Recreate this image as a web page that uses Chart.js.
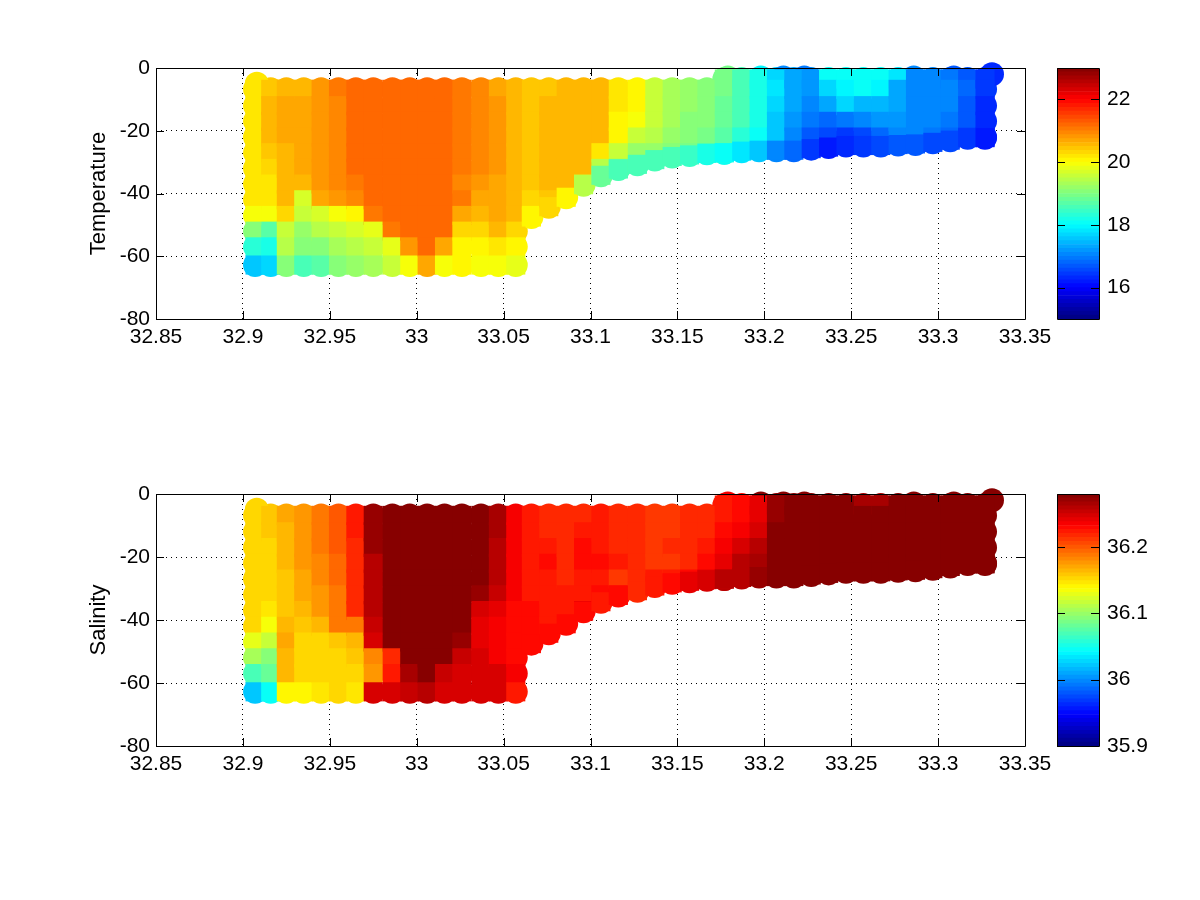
<!DOCTYPE html>
<html>
<head>
<meta charset="utf-8">
<title>Temperature and salinity section</title>
<script src="https://cdn.jsdelivr.net/npm/chart.js@4/dist/chart.umd.min.js"></script>
<style>
  html, body { margin: 0; background: #fff; }
  canvas { position: absolute; }
</style>
</head>
<body>
<canvas id="tempChart" style="left:76px;top:53px"></canvas>
<canvas id="tempBar" style="left:1047px;top:53px"></canvas>
<canvas id="salChart" style="left:76px;top:479px"></canvas>
<canvas id="salBar" style="left:1047px;top:479px"></canvas>
<script>
const lonTicks = [32.85, 32.9, 32.95, 33, 33.05, 33.1, 33.15, 33.2, 33.25, 33.3, 33.35];
const depthTicks = [-80, -60, -40, -20, 0];
const tempTicks = [16, 18, 20, 22];
const salTicks = [35.9, 36, 36.1, 36.2];

const lons = [32.907, 32.916, 32.925, 32.935, 32.945, 32.955, 32.965, 32.975, 32.986, 32.996, 33.006,
  33.016, 33.026, 33.037, 33.047, 33.057, 33.066, 33.076, 33.086, 33.096, 33.106, 33.116,
  33.127, 33.137, 33.147, 33.157, 33.167, 33.177, 33.187, 33.197, 33.207, 33.217, 33.227,
  33.237, 33.247, 33.257, 33.267, 33.277, 33.287, 33.297, 33.307, 33.317, 33.327];
const depthLevels = [-3.5, -6.8, -12, -17, -22, -27, -32, -37, -42, -47, -52, -57, -62.8];

// one list per station, top to bottom along depthLevels
const tempProfiles = [
  [null, 20.2, 20.2, 20.2, 20.2, 20.2, 20.2, 20.2, 20.2, 19.9, 19.0, 18.3, 17.6],
  [null, 20.4, 20.5, 20.5, 20.5, 20.4, 20.3, 20.2, 20.2, 19.9, 18.7, 18.2, 17.7],
  [null, 20.6, 20.7, 20.7, 20.7, 20.6, 20.5, 20.5, 20.5, 20.3, 19.6, 19.4, 19.0],
  [null, 20.6, 20.7, 20.7, 20.7, 20.7, 20.7, 20.5, 19.7, 19.5, 19.2, 19.0, 18.6],
  [null, 20.8, 20.8, 20.8, 20.8, 20.8, 20.8, 20.8, 20.7, 19.7, 19.4, 19.0, 18.7],
  [null, 21.0, 20.9, 20.9, 20.9, 20.9, 20.9, 20.9, 20.8, 19.9, 19.6, 19.3, 19.0],
  [null, 21.15, 21.15, 21.15, 21.15, 21.15, 21.15, 21.0, 20.9, 20.0, 19.7, 19.4, 19.2],
  [null, 21.15, 21.15, 21.15, 21.15, 21.15, 21.15, 21.15, 21.15, 21.0, 19.8, 19.5, 19.3],
  [null, 21.15, 21.15, 21.15, 21.15, 21.15, 21.15, 21.15, 21.15, 21.15, 21.0, 19.8, 19.5],
  [null, 21.15, 21.15, 21.15, 21.15, 21.15, 21.15, 21.15, 21.15, 21.15, 21.15, 20.8, 19.9],
  [null, 21.15, 21.15, 21.15, 21.15, 21.15, 21.15, 21.15, 21.15, 21.15, 21.15, 21.15, 20.7],
  [null, 21.15, 21.15, 21.15, 21.15, 21.15, 21.15, 21.15, 21.15, 21.15, 21.15, 20.7, 19.9],
  [null, 21.0, 21.0, 21.0, 21.0, 21.0, 21.0, 20.9, 21.0, 20.7, 20.3, 20.1, 20.0],
  [null, 20.9, 20.9, 20.9, 20.9, 20.9, 20.9, 20.8, 20.7, 20.6, 20.3, 20.1, 19.9],
  [null, 20.7, 20.8, 20.8, 20.8, 20.8, 20.8, 20.7, 20.7, 20.7, 20.6, 20.2, 19.9],
  [null, 20.5, 20.6, 20.6, 20.6, 20.5, 20.5, 20.5, 20.5, 20.5, 20.3, 20.0, 19.8],
  [null, 20.4, 20.4, 20.4, 20.4, 20.4, 20.4, 20.4, 20.3, 20.1],
  [null, 20.4, 20.5, 20.5, 20.5, 20.5, 20.5, 20.5, 20.4],
  [null, 20.5, 20.5, 20.5, 20.5, 20.5, 20.5, 20.5],
  [null, 20.5, 20.5, 20.5, 20.5, 20.5, 20.5, 19.5],
  [null, 20.5, 20.5, 20.5, 20.5, 20.2, 19.4],
  [null, 20.2, 20.2, 20.1, 20.0, 19.5, 18.8],
  [null, 20.0, 20.0, 19.9, 19.6, 19.2],
  [null, 19.6, 19.6, 19.5, 19.4, 19.2],
  [null, 19.3, 19.3, 19.3, 19.2, 19.0],
  [null, 19.2, 19.2, 19.1, 19.0, 18.9],
  [null, 19.1, 19.1, 19.0, 18.9, 18.7],
  [18.9, 18.9, 18.8, 18.8, 18.7, 18.4],
  [18.6, 18.6, 18.6, 18.5, 18.3],
  [18.2, 18.2, 18.2, 18.2, 18.0],
  [17.7, 17.8, 17.7, 17.6, 17.5],
  [17.3, 17.3, 17.3, 17.2, 17.1],
  [17.2, 17.2, 17.1, 16.9, 16.7],
  [18.1, 17.7, 17.3, 16.8, 16.5],
  [18.1, 17.9, 17.7, 16.9, 16.4],
  [18.1, 18.0, 17.4, 17.0, 16.6],
  [18.1, 17.9, 17.4, 17.2, 16.8],
  [17.8, 17.3, 17.3, 17.2, 17.0],
  [17.1, 17.1, 17.1, 17.1, 17.0],
  [17.0, 17.1, 17.1, 17.0, 16.9],
  [16.9, 17.0, 17.0, 16.9, 16.8],
  [16.7, 16.8, 16.7, 16.7, 16.6],
  [16.4, 16.4, 16.3, 16.3, 16.3],
];
const salProfiles = [
  [null, 36.155, 36.155, 36.155, 36.155, 36.155, 36.155, 36.155, 36.15, 36.13, 36.105, 36.07, 36.02],
  [null, 36.16, 36.16, 36.155, 36.15, 36.15, 36.15, 36.145, 36.135, 36.115, 36.095, 36.08, 36.045],
  [null, 36.17, 36.165, 36.165, 36.165, 36.16, 36.16, 36.16, 36.165, 36.17, 36.165, 36.165, 36.14],
  [null, 36.175, 36.175, 36.175, 36.175, 36.17, 36.17, 36.165, 36.16, 36.155, 36.155, 36.155, 36.14],
  [null, 36.185, 36.185, 36.185, 36.18, 36.18, 36.175, 36.175, 36.165, 36.15, 36.15, 36.155, 36.145],
  [null, 36.2, 36.2, 36.2, 36.195, 36.195, 36.19, 36.19, 36.185, 36.16, 36.155, 36.155, 36.15],
  [null, 36.225, 36.225, 36.22, 36.22, 36.215, 36.215, 36.215, 36.19, 36.165, 36.16, 36.155, 36.145],
  [null, 36.27, 36.27, 36.27, 36.26, 36.26, 36.26, 36.26, 36.255, 36.25, 36.18, 36.175, 36.25],
  [null, 36.28, 36.28, 36.28, 36.28, 36.28, 36.28, 36.28, 36.28, 36.28, 36.22, 36.225, 36.25],
  [null, 36.28, 36.28, 36.28, 36.28, 36.28, 36.28, 36.28, 36.28, 36.28, 36.28, 36.265, 36.255],
  [null, 36.28, 36.28, 36.28, 36.28, 36.28, 36.28, 36.28, 36.28, 36.28, 36.28, 36.275, 36.26],
  [null, 36.28, 36.28, 36.28, 36.28, 36.28, 36.28, 36.28, 36.28, 36.28, 36.275, 36.255, 36.245],
  [null, 36.28, 36.28, 36.28, 36.28, 36.28, 36.28, 36.28, 36.28, 36.27, 36.255, 36.25, 36.25],
  [null, 36.275, 36.275, 36.275, 36.275, 36.275, 36.27, 36.25, 36.24, 36.24, 36.245, 36.25, 36.25],
  [null, 36.265, 36.265, 36.26, 36.26, 36.26, 36.255, 36.24, 36.235, 36.235, 36.235, 36.245, 36.245],
  [null, 36.235, 36.235, 36.235, 36.235, 36.235, 36.235, 36.23, 36.23, 36.23, 36.23, 36.235, 36.225],
  [null, 36.225, 36.225, 36.225, 36.225, 36.225, 36.225, 36.23, 36.23],
  [null, 36.22, 36.22, 36.225, 36.23, 36.225, 36.225, 36.225, 36.225],
  [null, 36.22, 36.22, 36.22, 36.22, 36.22, 36.225, 36.225],
  [null, 36.22, 36.225, 36.23, 36.23, 36.225, 36.225, 36.24],
  [null, 36.225, 36.225, 36.225, 36.23, 36.225, 36.23],
  [null, 36.215, 36.215, 36.22, 36.225, 36.21, 36.23],
  [null, 36.215, 36.215, 36.215, 36.215, 36.215],
  [null, 36.21, 36.21, 36.21, 36.21, 36.225],
  [null, 36.21, 36.21, 36.215, 36.21, 36.225],
  [null, 36.215, 36.215, 36.215, 36.22, 36.23],
  [null, 36.22, 36.22, 36.225, 36.23, 36.24],
  [36.225, 36.225, 36.23, 36.235, 36.24, 36.255],
  [36.23, 36.23, 36.235, 36.245, 36.26],
  [36.24, 36.24, 36.25, 36.26, 36.265],
  [36.27, 36.27, 36.275, 36.275, 36.275],
  [36.28, 36.28, 36.28, 36.28, 36.28],
  [36.28, 36.28, 36.28, 36.28, 36.28],
  [36.28, 36.28, 36.28, 36.28, 36.28],
  [36.28, 36.28, 36.28, 36.28, 36.28],
  [36.265, 36.28, 36.28, 36.28, 36.28],
  [36.265, 36.28, 36.28, 36.28, 36.28],
  [36.28, 36.28, 36.28, 36.28, 36.28],
  [36.28, 36.28, 36.28, 36.28, 36.28],
  [36.28, 36.28, 36.28, 36.28, 36.28],
  [36.28, 36.28, 36.28, 36.28, 36.28],
  [36.28, 36.28, 36.28, 36.28, 36.28],
  [36.28, 36.28, 36.28, 36.28, 36.28],
];

// deepest sample of the stations on the slope and the shelf
const edgeLons = [33.066, 33.076, 33.086, 33.096, 33.106, 33.116, 33.127, 33.137, 33.147, 33.157, 33.167,
  33.177, 33.187, 33.197, 33.207, 33.217, 33.227, 33.237, 33.247, 33.257, 33.267, 33.277, 33.287, 33.297,
  33.307, 33.317, 33.327];
const edgeDepths = [-47.5, -44.2, -41.2, -37.2, -34.2, -32.2, -30.7, -29.2, -28.2, -27.7, -27.2,
  -27, -26.5, -26.2, -26.2, -26.2, -25.7, -25.2, -24.7, -24.7, -24.7, -24.4, -24.2, -23.7,
  -23, -22.2, -22.2];
const edgeTemps = [20.1, 20.3, 20.1, 19.4, 18.8, 18.6, 18.6, 18.6, 18.5, 18.4, 18.2,
  18.0, 17.8, 17.5, 17.1, 16.8, 16.4, 16.2, 16.3, 16.4, 16.5, 16.7, 16.7, 16.6,
  16.6, 16.4, 16.2];
const edgeSals = [36.23, 36.23, 36.23, 36.23, 36.225, 36.23, 36.215, 36.225, 36.23, 36.24, 36.25,
  36.26, 36.26, 36.27, 36.275, 36.28, 36.28, 36.28, 36.28, 36.28, 36.28, 36.28, 36.28, 36.28,
  36.28, 36.28, 36.28];

// shallowest samples that poke out at the surface
const capLons = [32.908, 33.179, 33.198, 33.211, 33.223, 33.286, 33.309, 33.331];
const capDepths = [-5, -3, -3, -3, -3, -3, -3, -2];
const capTemps = [20.2, 18.9, 17.9, 17.0, 16.9, 17.0, 16.7, 16.3];
const capSals = [36.155, 36.235, 36.28, 36.28, 36.28, 36.28, 36.28, 36.28];

const FONT = { family: '"Liberation Sans", Arial, sans-serif', size: 21 };
const TITLE_FONT = { family: '"Liberation Sans", Arial, sans-serif', size: 22 };
const COLORS = 64;

function jet(t) {
  const level = Math.min(COLORS - 1, Math.max(0, Math.floor(t * COLORS)));
  const p = (level + 0.5) / COLORS;
  const ramp = (c) => Math.round(255 * Math.min(1, Math.max(0, 1.5 - Math.abs(4 * p - c))));
  return `rgb(${ramp(3)},${ramp(2)},${ramp(1)})`;
}

// keeps tick label overhang from pushing the plot area around
function fixBox(s, size) {
  if (s.isHorizontal()) s.height = size; else s.width = size;
  s.paddingTop = s.paddingBottom = s.paddingLeft = s.paddingRight = 0;
}

// black box and inward tick marks, drawn over the data like the original axes
const axesFrame = {
  id: 'axesFrame',
  afterDraw(chart, args, opts) {
    const { ctx, chartArea: a, scales } = chart;
    ctx.save();
    ctx.strokeStyle = '#000';
    ctx.lineWidth = 1;
    ctx.beginPath();
    ctx.rect(a.left + 0.5, a.top + 0.5, a.right - a.left, a.bottom - a.top);
    if (!opts.noXTicks) {
      scales.x.ticks.forEach((t) => {
        const px = Math.round(scales.x.getPixelForValue(t.value)) + 0.5;
        ctx.moveTo(px, a.bottom); ctx.lineTo(px, a.bottom - 8);
        ctx.moveTo(px, a.top); ctx.lineTo(px, a.top + 8);
      });
    }
    scales.y.ticks.forEach((t) => {
      const py = Math.round(scales.y.getPixelForValue(t.value)) + 0.5;
      ctx.moveTo(a.left, py); ctx.lineTo(a.left + 8, py);
      ctx.moveTo(a.right, py); ctx.lineTo(a.right - 8, py);
    });
    ctx.stroke();
    ctx.restore();
  },
};

function sectionPoints(profiles, edgeValues) {
  const points = [];
  profiles.forEach((col, i) => {
    col.forEach((v, j) => {
      if (v !== null) points.push({ x: lons[i], y: depthLevels[j], v });
    });
  });
  edgeLons.forEach((lon, i) => points.push({ x: lon, y: edgeDepths[i], v: edgeValues[i] }));
  return points;
}

function drawSection(id, label, profiles, edgeValues, capValues, vmin, vmax, height) {
  const canvas = document.getElementById(id);
  canvas.width = 989;
  canvas.height = height;
  const points = sectionPoints(profiles, edgeValues);
  const caps = capLons.map((lon, i) => ({ x: lon, y: capDepths[i], v: capValues[i] }));
  const fill = (c) => jet((c.raw.v - vmin) / (vmax - vmin));
  new Chart(canvas, {
    type: 'scatter',
    data: {
      datasets: [
        // squares close the gaps between stations, the round markers go on top
        { data: points, pointStyle: 'rect', pointRadius: 13.5, pointBorderWidth: 0, pointBackgroundColor: fill, clip: false },
        { data: points.concat(caps), pointRadius: 12, pointBorderWidth: 0, pointBackgroundColor: fill, clip: false },
      ],
    },
    options: {
      responsive: false,
      animation: false,
      events: [],
      layout: { padding: { top: 15, right: 40, bottom: 10, left: 0 } },
      plugins: { legend: { display: false }, tooltip: { enabled: false } },
      scales: {
        x: {
          type: 'linear',
          min: 32.85,
          max: 33.35,
          afterBuildTicks: (s) => { s.ticks = lonTicks.map((value) => ({ value })); },
          afterFit: (s) => fixBox(s, 40),
          grid: { color: '#000', tickLength: 0, drawTicks: false },
          border: { display: false, dash: [1, 4] },
          ticks: { color: '#000', font: FONT, padding: 6, maxRotation: 0, autoSkip: false, callback: (v) => String(v) },
        },
        y: {
          type: 'linear',
          min: -80,
          max: 0,
          afterBuildTicks: (s) => { s.ticks = depthTicks.map((value) => ({ value })); },
          afterFit: (s) => fixBox(s, 80),
          grid: { color: '#000', tickLength: 0, drawTicks: false },
          border: { display: false, dash: [1, 4] },
          title: { display: true, text: label, color: '#000', font: TITLE_FONT, padding: { top: 10, bottom: 0 } },
          ticks: { color: '#000', font: FONT, padding: 6, callback: (v) => String(v) },
        },
      },
    },
    plugins: [axesFrame],
  });
}

function drawColorbar(id, ticks, vmin, vmax, height) {
  const canvas = document.getElementById(id);
  canvas.width = 117;
  canvas.height = height;
  const datasets = [];
  for (let i = 0; i < COLORS; i++) {
    const lo = vmin + (vmax - vmin) * i / COLORS;
    const hi = vmin + (vmax - vmin) * (i + 1) / COLORS;
    datasets.push({
      data: [[lo, hi]],
      backgroundColor: jet((i + 0.5) / COLORS),
      borderWidth: 0,
      barPercentage: 1,
      categoryPercentage: 1,
      grouped: false,
    });
  }
  new Chart(canvas, {
    type: 'bar',
    data: { labels: [''], datasets },
    options: {
      responsive: false,
      animation: false,
      events: [],
      layout: { padding: { top: 15, right: 5, bottom: 15, left: 10 } },
      plugins: { legend: { display: false }, tooltip: { enabled: false }, axesFrame: { noXTicks: true } },
      scales: {
        x: { display: false },
        y: {
          position: 'right',
          min: vmin,
          max: vmax,
          afterBuildTicks: (s) => { s.ticks = ticks.map((value) => ({ value })); },
          afterFit: (s) => fixBox(s, 60),
          grid: { display: false, drawTicks: false, tickLength: 0 },
          border: { display: false },
          ticks: { color: '#000', font: FONT, padding: 8, callback: (v) => String(v) },
        },
      },
    },
    plugins: [axesFrame],
  });
}

drawSection('tempChart', 'Temperature', tempProfiles, edgeTemps, capTemps, 15, 23, 316);
drawColorbar('tempBar', tempTicks, 15, 23, 281);
drawSection('salChart', 'Salinity', salProfiles, edgeSals, capSals, 35.9, 36.28, 317);
drawColorbar('salBar', salTicks, 35.9, 36.28, 282);
</script>
</body>
</html>
